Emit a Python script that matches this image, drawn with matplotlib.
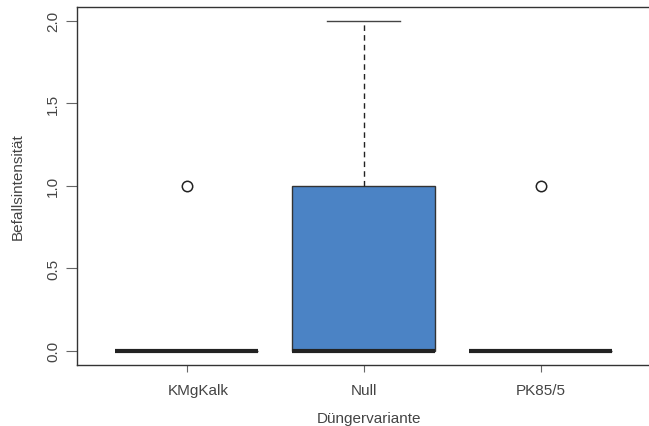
import matplotlib
matplotlib.use("Agg")
import matplotlib.pyplot as plt
from matplotlib.transforms import ScaledTranslation

plt.rcParams['font.family'] = ['Liberation Sans', 'DejaVu Sans']

# Befallsintensität je Düngervariante (Einzelbonituren)
varianten = ['KMgKalk', 'Null', 'PK85/5']
kmgkalk = [0, 0, 0, 0, 0, 0, 0, 0, 0, 1]
null = [0, 0, 0, 0, 0, 0, 1, 1, 1, 2]
pk85_5 = [0, 0, 0, 0, 0, 0, 0, 0, 0, 1]
yticks = [0.0, 0.5, 1.0, 1.5, 2.0]

fig = plt.figure(figsize=(6.49, 4.27), dpi=100)
# plot region runs past the right edge, so the right frame line is not drawn
ax = fig.add_axes([77 / 649, 61 / 427, 583 / 649, 358 / 427])

txt = '#444444'
edge = '#333333'

bp = ax.boxplot([kmgkalk, null, pk85_5], positions=[1, 2, 3], widths=0.81,
                whis=1.5, patch_artist=True, capwidths=0.41,
                boxprops=dict(facecolor='#4B83C5', edgecolor=edge, linewidth=1.0),
                medianprops=dict(color='#222222', linewidth=3, solid_capstyle='butt'),
                whiskerprops=dict(color='#222222', linewidth=1, linestyle=(0, (4, 3))),
                capprops=dict(color='#444444', linewidth=1),
                flierprops=dict(marker='o', markerfacecolor='none',
                                markeredgecolor='#222222', markersize=7.5,
                                markeredgewidth=1.1))

ax.set_xlim(0.380, 3.674)
ax.set_ylim(-0.087, 2.083)

ax.set_xticks([1, 2, 3])
ax.set_xticklabels(varianten)
ax.set_yticks(yticks)
ax.set_yticklabels([f'{v:.1f}' for v in yticks], rotation=90, va='center')

ax.tick_params(axis='both', direction='out', width=0.8,
               color='#666666', labelcolor=txt, labelsize=11)
ax.tick_params(axis='x', length=5, pad=8)
ax.tick_params(axis='y', length=8, pad=4)

# first category label sits a little right of its tick
lab = ax.get_xticklabels()[0]
lab.set_transform(lab.get_transform() + ScaledTranslation(12 / 100, 0, fig.dpi_scale_trans))

for side in ['left', 'bottom', 'top']:
    ax.spines[side].set_color(edge)
    ax.spines[side].set_linewidth(1.0)
ax.spines['right'].set_visible(False)

ax.set_xlabel('Düngervariante', color=txt, fontsize=11)
ax.set_ylabel('Befallsintensität', color=txt, fontsize=11)
ax.xaxis.set_label_coords(0.5, -(412 - 366) / 358)
ax.yaxis.set_label_coords(-(77 - 25) / 583, 0.5)

fig.savefig('out.png', dpi=100)
